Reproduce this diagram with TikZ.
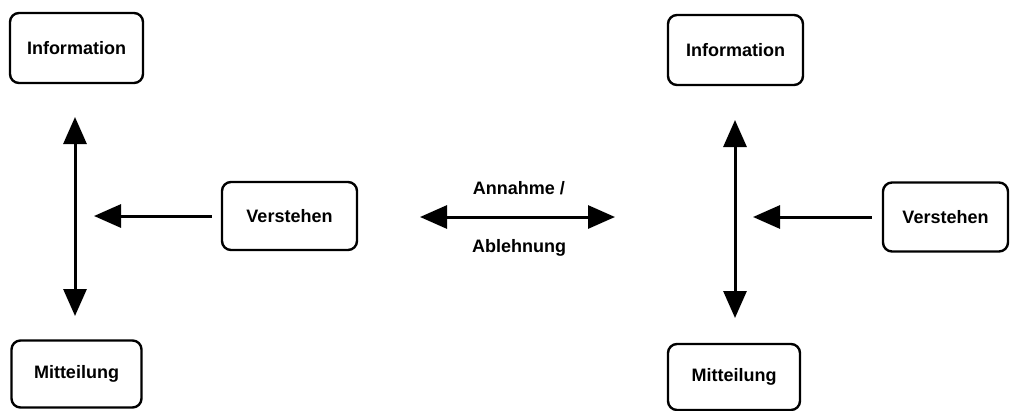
\documentclass[tikz,border=0pt]{standalone}
\usepackage{fontspec}
\setmainfont{Liberation Sans}
\usetikzlibrary{arrows.meta}
\begin{document}
\begin{tikzpicture}[x=1pt,y=-1pt,
  box/.style={draw, line width=2.4pt, rounded corners=9pt, inner sep=0pt,
    font=\fontsize{18}{20}\selectfont\bfseries},
  lbl/.style={font=\fontsize{18}{20}\selectfont\bfseries, inner sep=0pt},
  conn/.style={line width=3pt, -{Triangle[length=27pt,width=23pt]}},
  dconn/.style={line width=3pt, {Triangle[length=27pt,width=23pt]}-{Triangle[length=27pt,width=23pt]}}]
\useasboundingbox (0,0) rectangle (1010,410);
% left group
\node[box, minimum width=133pt, minimum height=70pt] (li) at (76.5,48) {Information};
\node[box, minimum width=130pt, minimum height=67pt] (lm) at (76.5,374) {Mitteilung};
\node[box, minimum width=135pt, minimum height=68pt] (lv) at (289.5,216) {Verstehen};
\coordinate (lt) at (75,117);
\coordinate (lb) at (75,316);
\coordinate (lh) at (94,216);
\draw[dconn] (lt) -- (lb);
\draw[conn, shorten <=9pt] (lv.west) -- (lh);
% centre
\coordinate (ca) at (420,217);
\coordinate (cb) at (615,217);
\draw[dconn] (ca) -- (cb);
\node[lbl] (an) at (519,188) {Annahme /};
\node[lbl] (ab) at (519,248) {Ablehnung};
% right group
\node[box, minimum width=135pt, minimum height=70pt] (ri) at (735.5,50) {Information};
\node[box, minimum width=132pt, minimum height=66pt] (rm) at (734,377) {Mitteilung};
\node[box, minimum width=125pt, minimum height=69pt] (rv) at (945.5,217) {Verstehen};
\coordinate (rt) at (735,120);
\coordinate (rb) at (735,318);
\coordinate (rh) at (753,217);
\draw[dconn] (rt) -- (rb);
\draw[conn, shorten <=10pt] (rv.west) -- (rh);
\end{tikzpicture}
\end{document}
